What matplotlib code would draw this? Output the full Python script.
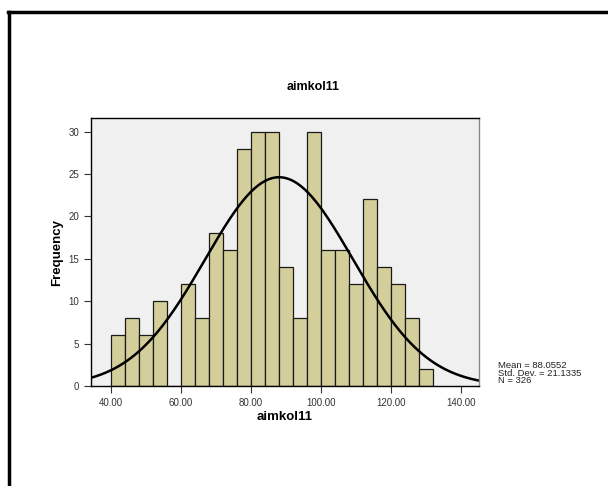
import matplotlib.pyplot as plt
from matplotlib.lines import Line2D
import numpy as np

plt.rcParams['font.family'] = ['Liberation Sans', 'DejaVu Sans']

# histogram of aimkol11, bins of width 4 starting at 40
bin_edges = np.arange(40, 136, 4)
counts = [6, 8, 6, 10, 0, 12, 8, 18, 16, 28, 30, 30, 14, 8, 30, 16, 16, 12, 22, 14, 12, 8, 2]
mean = 88.0552
std = 21.1335
n = 326
x_ticks = [40, 60, 80, 100, 120, 140]
y_ticks = [0, 5, 10, 15, 20, 25, 30]

fig = plt.figure(figsize=(6.08, 4.86), dpi=100)
ax = fig.add_axes([91/608, 1 - 386/486, (479 - 91)/608, (386 - 118)/486])
ax.set_facecolor('#F0F0F0')

ax.bar(bin_edges[:-1], counts, width=4, align='edge', color='#D4CF9A',
       edgecolor='#1a1a1a', linewidth=0.9)

# normal curve scaled to counts
xs = np.linspace(34.3, 145.2, 300)
ys = n * 4 / (std * np.sqrt(2 * np.pi)) * np.exp(-0.5 * ((xs - mean) / std) ** 2)
ax.plot(xs, ys, color='black', linewidth=1.8)

ax.set_xlim(34.3, 145.2)
ax.set_ylim(0, 31.6)
ax.set_xticks(x_ticks)
ax.set_xticklabels(['%.2f' % v for v in x_ticks])
ax.set_yticks(y_ticks)
ax.tick_params(labelsize=7, length=5, width=0.8, colors='#333333', labelcolor='#333333')
for s in ax.spines.values():
    s.set_linewidth(1.0)
ax.spines['right'].set_color('#888888')

ax.set_xlabel('aimkol11', fontsize=9.5, fontweight='bold', labelpad=2)
ax.set_ylabel('Frequency', fontsize=9.5, fontweight='bold', labelpad=4)

fig.text(313/608, 1 - 87/486, 'aimkol11', fontsize=9, fontweight='bold', ha='center', va='center')
fig.text(498/608, 1 - 373/486, 'Mean = %.4f\nStd. Dev. = %.4f\nN = %d' % (mean, std, n),
         fontsize=6.8, ha='left', va='center', linespacing=0.85, color='#222222')

# outer frame (only left and top edges visible)
fig.add_artist(Line2D([9/608, 9/608], [0, 1 - 12/486], transform=fig.transFigure, color='black', linewidth=2.5))
fig.add_artist(Line2D([8/608, 1], [1 - 12/486, 1 - 12/486], transform=fig.transFigure, color='black', linewidth=2.5))

fig.savefig('out.png', dpi=100)
